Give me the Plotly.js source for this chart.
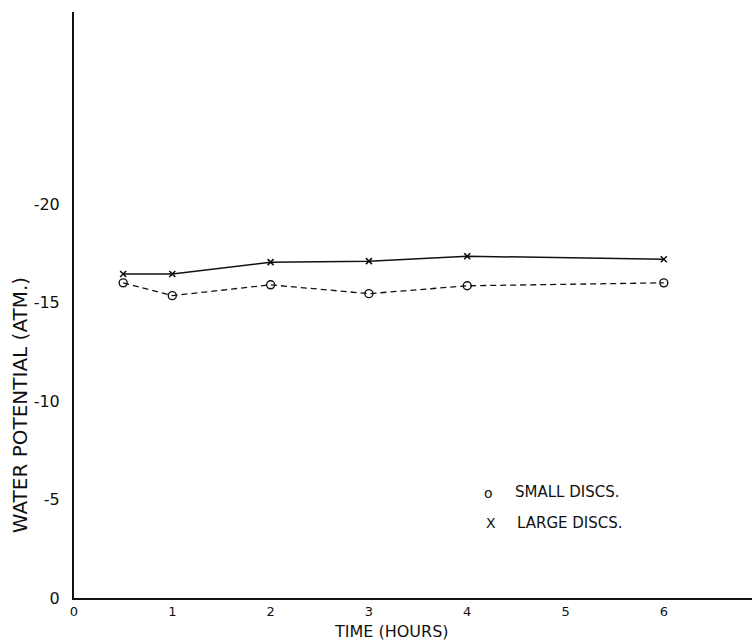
<!DOCTYPE html>
<html>
<head>
<meta charset="utf-8">
<script src="https://cdn.plot.ly/plotly-3.0.1.min.js"></script>
<style>html,body{margin:0;padding:0;background:#fff;}#chart{width:752px;height:644px;}</style>
</head>
<body>
<div id="chart"></div>
<script>
// Data
const hours = [0.5, 1, 2, 3, 4, 6];
const smallDiscs = [-16.0, -15.35, -15.9, -15.45, -15.85, -16.0];
const largeDiscs = [-16.45, -16.45, -17.05, -17.1, -17.35, -17.2];
const xTickVals = [0, 1, 2, 3, 4, 5, 6];
const xTickText = ["0", "1", "2", "3", "4", "5", "6"];
const yTickVals = [0, -5, -10, -15, -20];
const yTickText = ["0", "-5", "-10", "-15", "-20"];
const seriesNames = ["SMALL DISCS.", "LARGE DISCS."];
const legendSymbols = ["o", "X"];

const FONT = "DejaVu Sans, Liberation Sans, sans-serif";

const traces = [
  {
    x: hours, y: largeDiscs, name: seriesNames[1], type: "scatter", mode: "lines+markers",
    line: {color: "#111", width: 1.5},
    marker: {symbol: "x-thin-open", size: 6, color: "#111", line: {color: "#111", width: 1.6}},
    showlegend: false, cliponaxis: false
  },
  {
    x: hours, y: smallDiscs, name: seriesNames[0], type: "scatter", mode: "lines+markers",
    line: {color: "#111", width: 1.3, dash: "6px,4px"},
    marker: {symbol: "circle-open", size: 8, color: "#111", line: {color: "#111", width: 1.4}},
    showlegend: false, cliponaxis: false
  }
];

const layout = {
  width: 752, height: 644,
  margin: {l: 74, r: 0, t: 12, b: 46},
  paper_bgcolor: "#fff", plot_bgcolor: "#fff",
  font: {family: FONT, color: "#111"},
  xaxis: {
    range: [0, 6.897], tickvals: xTickVals, ticktext: xTickText,
    showgrid: false, zeroline: false, showline: true, linecolor: "#111", linewidth: 2,
    ticks: "", ticklabelstandoff: 0, tickfont: {size: 13, family: FONT, color: "#111"}
  },
  yaxis: {
    range: [0, -29.75], tickvals: yTickVals, ticktext: yTickText,
    showgrid: false, zeroline: false, showline: true, linecolor: "#111", linewidth: 2,
    ticks: "", ticklabelstandoff: 9, tickfont: {size: 16, family: FONT, color: "#111"}
  },
  annotations: [
    {xref: "paper", yref: "paper", x: -0.0796, y: 0.329, text: "WATER POTENTIAL (ATM.)",
     textangle: -90, showarrow: false, xanchor: "center", yanchor: "middle",
     font: {size: 20, family: FONT, color: "#111"}},
    {xref: "paper", yref: "paper", x: 0.469, y: -0.0565, text: "TIME (HOURS)",
     showarrow: false, xanchor: "center", yanchor: "middle",
     font: {size: 16, family: FONT, color: "#111"}},
    {xref: "paper", yref: "paper", x: 0.612, y: 0.179, text: legendSymbols[0],
     showarrow: false, xanchor: "center", yanchor: "middle",
     font: {size: 14, family: FONT, color: "#111"}},
    {xref: "paper", yref: "paper", x: 0.647, y: 0.181, text: seriesNames[0],
     showarrow: false, xanchor: "left", yanchor: "middle",
     font: {size: 15, family: FONT, color: "#111"}},
    {xref: "paper", yref: "paper", x: 0.615, y: 0.128, text: legendSymbols[1],
     showarrow: false, xanchor: "center", yanchor: "middle",
     font: {size: 14, family: FONT, color: "#111"}},
    {xref: "paper", yref: "paper", x: 0.650, y: 0.128, text: seriesNames[1],
     showarrow: false, xanchor: "left", yanchor: "middle",
     font: {size: 15, family: FONT, color: "#111"}}
  ]
};

Plotly.newPlot("chart", traces, layout, {displayModeBar: false, staticPlot: true});
</script>
</body>
</html>
